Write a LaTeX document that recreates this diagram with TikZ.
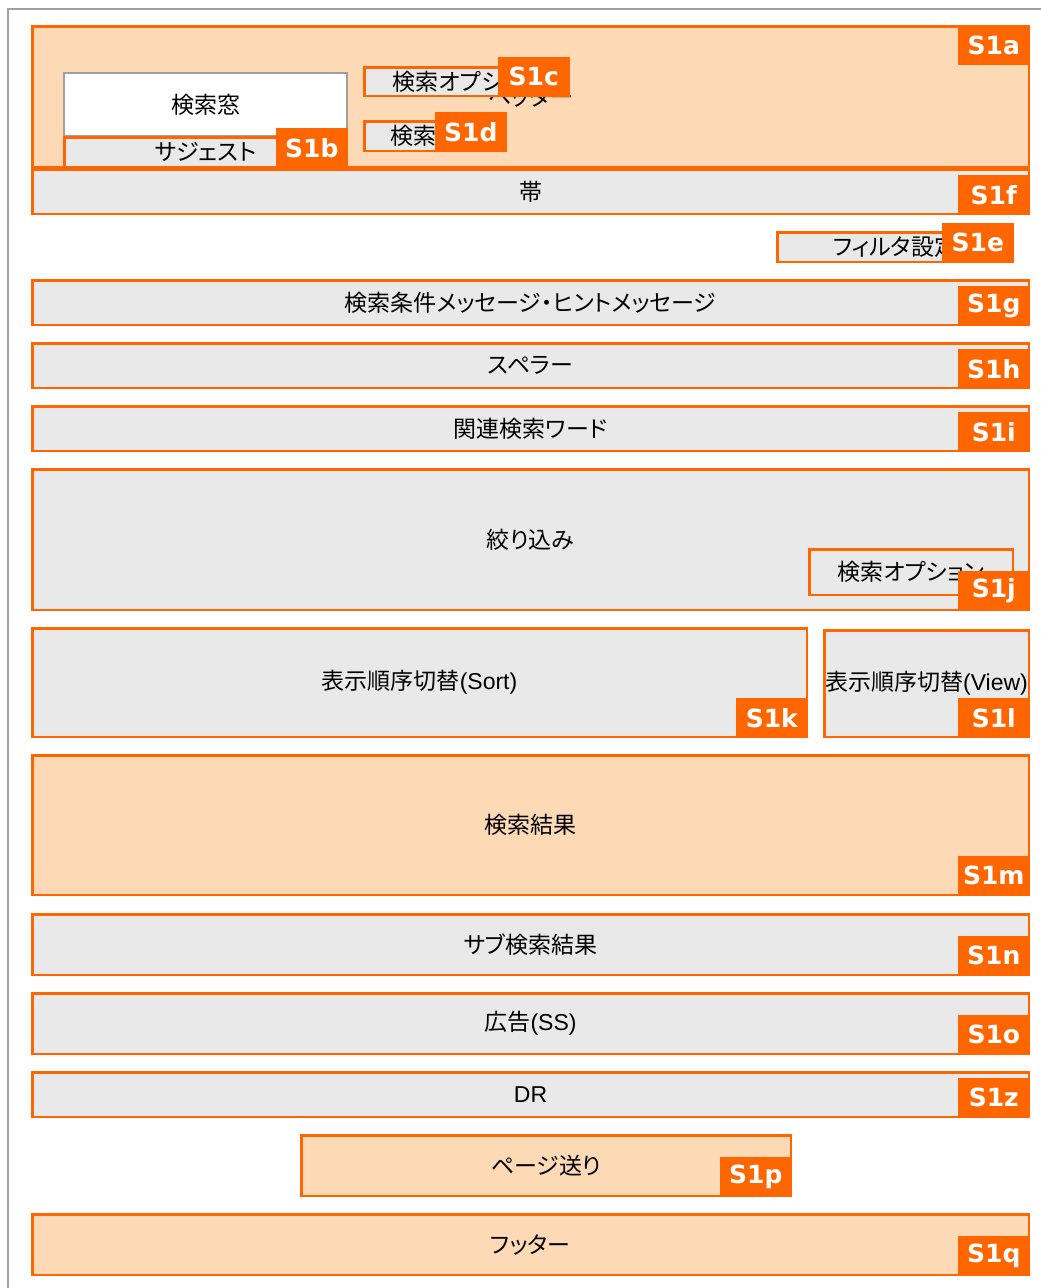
\documentclass[tikz,border=0pt]{standalone}
\usepackage{fontspec}
\setmainfont{Liberation Sans}
\newfontfamily\cjk{Noto Sans CJK JP}[RawFeature=+palt]
\newfontfamily\tagfamily{DejaVu Sans}
\usetikzlibrary{calc}
\definecolor{sorange}{HTML}{FF6600}
\definecolor{speach}{HTML}{FDD9B5}
\definecolor{sgray}{HTML}{E9E9E9}
\definecolor{sframe}{HTML}{A0A0A0}

\begin{document}
\begin{tikzpicture}[x=1pt,y=-1pt,
  zone/.style={draw=sorange,line width=2.5pt,fill=sgray,inner sep=0pt,anchor=north west,font=\fontsize{23}{23}\selectfont},
  warm/.style={zone,fill=speach},
  tag/.style={fill=sorange,text=white,inner sep=0pt,minimum width=72,minimum height=40,font=\tagfamily\bfseries\fontsize{25}{25}\selectfont}]
\useasboundingbox (0,0) rectangle (1041,1288);
\draw [sframe,line width=2pt] (8,1288)--(8,9)--(1041,9);
\node [warm,minimum width=996.5,minimum height=140.5] (hdr) at (31,25) {{\cjk ヘッダー}};
\node [zone,draw=sframe,line width=2pt,fill=white,minimum width=283,minimum height=63] (searchwin) at (63,72) {{\cjk 検索窓}};
\node [zone,minimum width=282.5,minimum height=29.5] (suggest) at (63,136) {{\cjk サジェスト}};
\node [zone,minimum width=204.5,minimum height=28.5] (optc) at (363,66) {{\cjk 検索オプション}};
\node [zone,minimum width=141.5,minimum height=29.5] (btnd) at (363,120) {{\cjk 検索}\kern44pt};
\node [zone,minimum width=996.5,minimum height=44.5] (belt) at (31,168) {{\cjk 帯}};
\node [zone,minimum width=235.5,minimum height=29.5] (filter) at (776,231) {{\cjk フィルタ設定}};
\node [zone,minimum width=996.5,minimum height=44.5] (cond) at (31,279) {{\cjk 検索条件メッセージ・ヒントメッセージ}};
\node [zone,minimum width=996.5,minimum height=44.5] (speller) at (31,342) {{\cjk スペラー}};
\node [zone,minimum width=996.5,minimum height=44.5] (related) at (31,405) {{\cjk 関連検索ワード}};
\node [zone,minimum width=996.5,minimum height=140.5] (narrow) at (31,468) {{\cjk 絞り込み}};
\node [zone,minimum width=203.5,minimum height=45.5] (narrowopt) at (808,548) {{\cjk 検索オプション}};
\node [zone,minimum width=774.5,minimum height=108.5] (sortbox) at (31,627) {{\cjk 表示順序切替}(Sort)};
\node [zone,minimum width=204.5,minimum height=106.5] (viewbox) at (823,629) {{\cjk 表示順序切替}(View)};
\node [warm,minimum width=996.5,minimum height=139.5] (results) at (31,754) {{\cjk 検索結果}};
\node [zone,minimum width=996.5,minimum height=60.5] (subres) at (31,913) {{\cjk サブ検索結果}};
\node [zone,minimum width=996.5,minimum height=60.5] (ads) at (31,992) {{\cjk 広告}(SS)};
\node [zone,minimum width=996.5,minimum height=44.5] (dr) at (31,1071) {DR};
\node [warm,minimum width=489.5,minimum height=60.5] (pager) at (300,1134) {{\cjk ページ送り}};
\node [warm,minimum width=996.5,minimum height=60.5] (footer) at (31,1213) {{\cjk フッター}};
\node [tag,anchor=north east] (tagA) at (hdr.north east) {S1a};
\node [tag,anchor=south east] (tagB) at (suggest.south east) {S1b};
\node [tag,anchor=south east] (tagC) at (optc.south east) {S1c};
\node [tag,anchor=south east] (tagD) at (btnd.south east) {S1d};
\node [tag,anchor=south east] (tagE) at (filter.south east) {S1e};
\node [tag,anchor=south east] (tagF) at (belt.south east) {S1f};
\node [tag,anchor=south east] (tagG) at (cond.south east) {S1g};
\node [tag,anchor=south east] (tagH) at (speller.south east) {S1h};
\node [tag,anchor=south east] (tagI) at (related.south east) {S1i};
\node [tag,anchor=south east] (tagJ) at (narrow.south east) {S1j};
\node [tag,anchor=south east] (tagK) at (sortbox.south east) {S1k};
\node [tag,anchor=south east] (tagL) at (viewbox.south east) {S1l};
\node [tag,anchor=south east] (tagM) at (results.south east) {S1m};
\node [tag,anchor=south east] (tagN) at (subres.south east) {S1n};
\node [tag,anchor=south east] (tagO) at (ads.south east) {S1o};
\node [tag,anchor=south east] (tagZ) at (dr.south east) {S1z};
\node [tag,anchor=south east] (tagP) at (pager.south east) {S1p};
\node [tag,anchor=south east] (tagQ) at (footer.south east) {S1q};
\end{tikzpicture}
\end{document}
